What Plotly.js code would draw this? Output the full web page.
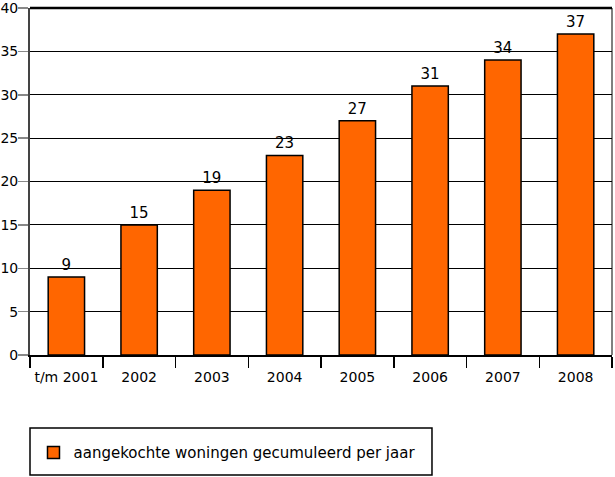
<!DOCTYPE html>
<html><head><meta charset="utf-8">
<script src="https://cdn.plot.ly/plotly-3.0.1.min.js"></script>
<style>html,body{margin:0;padding:0;background:#fff}#chart{width:615px;height:477px}</style>
</head><body><div id="chart"></div>
<script>
var categories = ["t/m 2001","2002","2003","2004","2005","2006","2007","2008"];
var values = [9,15,19,23,27,31,34,37];
var yTicks = [0,5,10,15,20,25,30,35,40];
var seriesName = "aangekochte woningen gecumuleerd per jaar";

var fam = "DejaVu Sans, Liberation Sans, sans-serif";
var trace = {
  type: "bar", x: categories, y: values, name: seriesName,
  text: values.map(String), textposition: "outside", cliponaxis: false,
  textfont: {family: fam, size: 15, color: "#000"},
  marker: {color: "#FF6600", line: {color: "#000", width: 1.5}},
  width: 0.5, showlegend: true
};
var layout = {
  width: 615, height: 477,
  margin: {l: 30, r: 3, t: 8, b: 122},
  paper_bgcolor: "#fff", plot_bgcolor: "#fff",
  font: {family: fam, size: 14, color: "#000"},
  xaxis: {
    type: "category", showgrid: false, tickson: "boundaries", tickangle: 0,
    ticks: "outside", ticklen: 11, tickcolor: "#000", tickwidth: 1.5,
    ticklabelstandoff: 8,
    showline: true, linecolor: "#000", linewidth: 2, mirror: false,
    tickfont: {family: fam, size: 14, color: "#000"}, automargin: false
  },
  yaxis: {
    range: [0, 40], tickvals: yTicks, ticktext: yTicks.map(String),
    showgrid: true, gridcolor: "#000", gridwidth: 1,
    ticks: "outside", ticklen: 10, tickcolor: "#888", tickwidth: 1.5,
    ticklabelstandoff: -3, ticklabeloverflow: "allow",
    showline: true, linecolor: "#444", linewidth: 2, zeroline: false,
    tickfont: {family: fam, size: 14, color: "#000"}, automargin: false
  },
  shapes: [
    {type: "line", xref: "paper", yref: "paper", x0: 0, x1: 1, y0: 1, y1: 1, line: {color: "#000", width: 2.5}},
    {type: "line", xref: "paper", yref: "paper", x0: 1, x1: 1, y0: 0, y1: 1, line: {color: "#000", width: 1}},
    {type: "rect", xref: "paper", yref: "paper", x0: 0, x1: 0.6907, y0: -0.2104, y1: -0.3458, line: {color: "#000", width: 1.5}}
  ],
  showlegend: true,
  legend: {x: 0.006, y: -0.282, xanchor: "left", yanchor: "middle", bgcolor: "rgba(0,0,0,0)", borderwidth: 0,
    font: {family: fam, size: 15, color: "#000"}}
};
Plotly.newPlot("chart", [trace], layout, {displayModeBar: false, staticPlot: true});
</script></body></html>
